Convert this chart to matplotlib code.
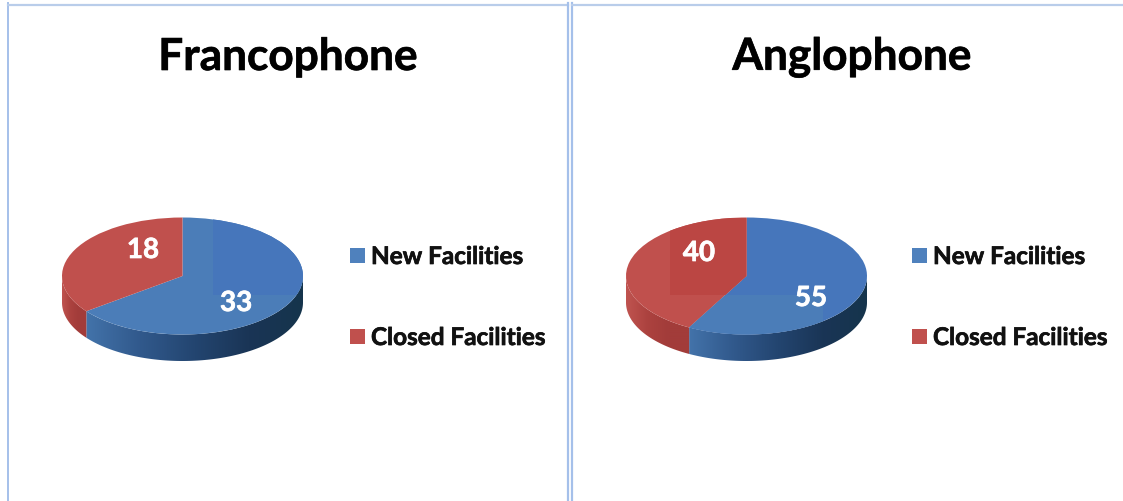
import numpy as np
import matplotlib
matplotlib.use('Agg')
import matplotlib.pyplot as plt
import matplotlib.patheffects as pe
from matplotlib.colors import LinearSegmentedColormap
from matplotlib.patches import Polygon, Rectangle
from matplotlib.lines import Line2D

titles = ['Francophone', 'Anglophone']
labels = ['New Facilities', 'Closed Facilities']
new_facilities = [33, 55]
closed_facilities = [18, 40]

W, H = 1123, 502
plt.rcParams['font.family'] = ['Lato', 'DejaVu Sans']

fig = plt.figure(figsize=(W / 100, H / 100), dpi=100, facecolor='white')

# fond en pixels pour les cadres et le texte
bg = fig.add_axes([0, 0, 1, 1])
bg.set_xlim(0, W)
bg.set_ylim(H, 0)
bg.axis('off')

frame = '#b9cdea'
side = '#a5c0ea'
bg.add_line(Line2D([8, 8], [4, H], color=side, lw=1.4))
bg.add_line(Line2D([8, 568], [5.5, 5.5], color=frame, lw=1.6))
bg.add_line(Line2D([568, 568], [4, H], color=side, lw=1.6))
bg.add_line(Line2D([572, 572], [4, H], color=side, lw=1.6))
bg.add_line(Line2D([572, W], [5.5, 5.5], color=frame, lw=1.6))

blue_top = '#4676bb'
blue_light = '#4b7db8'
red_top = '#c0504d'
red_dark = '#bb4643'
blue_side = LinearSegmentedColormap.from_list('b', ['#4373aa', '#31598c', '#234570', '#1a3556', '#15344c'])
red_side = LinearSegmentedColormap.from_list('r', ['#c05450', '#ac423f', '#a23c3a', '#a33c3a'])

centers = [182.5, 746.5]
title_x = [288, 852]
rx, ry, cy, depth = 120.5, 58.5, 277, 26.5
legend_x = [350, 912]
legend_y = [256.5, 337.5]
heavy = [pe.withStroke(linewidth=0.5, foreground='#111111')]
heavy_w = [pe.withStroke(linewidth=0.5, foreground='white')]

for i, title in enumerate(titles):
    vals = [new_facilities[i], closed_facilities[i]]
    cx = centers[i]
    ax = fig.add_axes([(cx - rx) / W, 1 - (cy + ry + depth) / H, 2 * rx / W, (2 * ry + depth) / H])
    ax.patch.set_alpha(0)

    base_color = blue_light if i == 0 else blue_top
    wedges, _ = ax.pie(vals, colors=[base_color, red_top],
                       startangle=90, counterclock=False, radius=1, frame=False)
    ax.set_aspect('auto')
    d = depth / ry
    ax.axis('off')

    # bord de la part: angles tirés des valeurs
    end = 90 - 360 * vals[0] / sum(vals)
    t_blue = np.radians(np.linspace(end, 0, 120))
    t_red = np.radians(np.linspace(-180, end, 60))

    for t, cmap in [(t_blue, blue_side), (t_red, red_side)]:
        xs = np.cos(t)
        ys = np.sin(t)
        pts = np.vstack([np.c_[xs, ys], np.c_[xs[::-1], ys[::-1] - d]])
        poly = Polygon(pts, closed=True, fc='none', ec='none')
        ax.add_patch(poly)
        im = ax.imshow(np.linspace(0, 1, 256)[None, :], cmap=cmap, aspect='auto',
                       extent=[xs.min(), xs.max(), -1 - d, 1], zorder=0.5)
        im.set_clip_path(poly)
    ax.set_xlim(-1, 1)
    ax.set_ylim(-1 - d, 1)

    # zones de compression visibles sur le dessus
    def px(x, y):
        return (x - cx) / rx, (cy - y) / ry
    if i == 0:
        x0, y0 = px(213, 296)
        r = Rectangle((x0, y0), 2, 2, fc=blue_top, ec='none', zorder=2)
        ax.add_patch(r)
        r.set_clip_path(wedges[0])
    else:
        x0, y0 = px(670, 296)
        r = Rectangle((x0, y0), 2, 2, fc=red_dark, ec='none', zorder=2)
        ax.add_patch(r)
        r.set_clip_path(wedges[1])
        x0, y0 = px(650, 296)
        x1, _ = px(823, 296)
        r2 = Rectangle((x0, y0 - 2), x1 - x0, 2, fc=blue_light, ec='none', zorder=2)
        ax.add_patch(r2)
        r2.set_clip_path(wedges[0])

    bg.text(title_x[i], 58, title, fontsize=31.8, fontweight='bold', color='black',
            ha='center', va='center', path_effects=heavy)

    for j, lab in enumerate(labels):
        c = '#4f81bd' if j == 0 else '#c0504d'
        bg.add_patch(Rectangle((legend_x[i], legend_y[j] - 7.5), 15, 15, fc=c, ec='none'))
        bg.text(legend_x[i] + 21, legend_y[j] + 1, lab, fontsize=17.5, fontweight='bold',
                color='#111111', ha='left', va='center', path_effects=heavy)

# étiquettes des valeurs
value_pos = [((236, 304), (143, 251)), ((811, 299), (699, 254))]
fg = fig.add_axes([0, 0, 1, 1])
fg.set_xlim(0, W)
fg.set_ylim(H, 0)
fg.axis('off')
for i in range(2):
    for v, (x, y) in zip((new_facilities[i], closed_facilities[i]), value_pos[i]):
        fg.text(x, y, str(v), fontsize=20, fontweight='bold', color='white', ha='center', va='center',
                path_effects=heavy_w)

fig.savefig('out.png', dpi=100)
